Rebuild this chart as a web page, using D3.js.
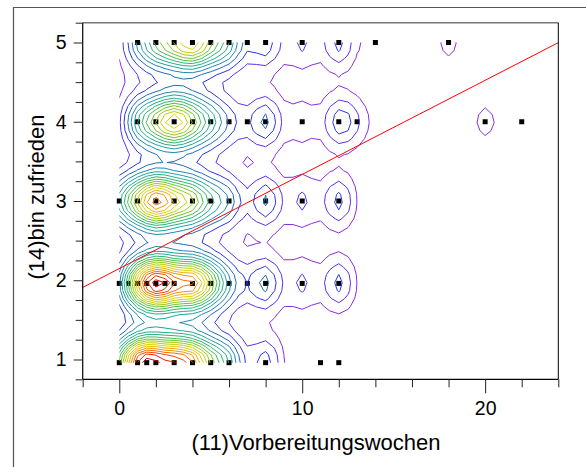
<!DOCTYPE html>
<html>
<head>
<meta charset="utf-8">
<script src="https://cdn.jsdelivr.net/npm/d3@7"></script>
<style>
  html, body { margin: 0; padding: 0; background: #fff; }
  svg { display: block; }
  text { font-family: Arial, "Liberation Sans", Helvetica, sans-serif; fill: #000; }
</style>
</head>
<body>
<svg id="chart" width="586" height="467"></svg>
<script>
// Preparation weeks (x) and number of answers for each satisfaction rating
const weeks5 = [1, 2, 3, 4, 5, 6, 7, 8, 10, 12, 14, 18];
const counts5 = [5, 9, 11, 15, 9, 7, 1, 5, 3, 5, 1, 2];
const weeks4 = [1, 2, 3, 4, 5, 6, 7, 8, 10, 12, 13, 20, 22];
const counts4 = [7, 10, 15, 10, 6, 3, 1, 6, 2, 5, 2, 2, 1];
const weeks3 = [0, 1, 2, 3, 4, 5, 6, 8, 10, 12];
const counts3 = [6, 11, 18, 12, 11, 6, 5, 6, 3, 5];
const weeks2 = [0, 0.5, 1, 1.5, 2, 2.5, 3, 4, 5, 6, 7, 8, 10, 12];
const counts2 = [1, 3, 9, 6, 15, 5, 12, 17, 10, 4, 1, 6, 3, 5];
const weeks1 = [0, 1, 1.5, 2, 3, 4, 5, 6, 8, 11, 12];
const counts1 = [8, 17, 4, 16, 17, 16, 9, 7, 5, 1, 1];
// value at which each rating row is plotted (ratings 5 .. 1)
const rowValues = [5, 4, 3, 1.96, 0.96];

// linear fit of satisfaction on preparation weeks
const fitIntercept = 2.147;
const fitSlope = 0.1188;

// axis ticks
const xMajorTicks = [0, 10, 20];
const xMinorTicks = [-2, 2, 4, 6, 8, 12, 14, 16, 18, 22, 24];
const yMajorTicks = [1, 2, 3, 4, 5];
const yMinorTicks = [0.75, 1.25, 1.5, 1.75, 2.25, 2.5, 2.75, 3.25, 3.5, 3.75, 4.25, 4.5, 4.75, 5.25];

const xTitle = "(11)Vorbereitungswochen";
const yTitle = "(14)bin zufrieden";

const rows = [
  { weeks: weeks5, counts: counts5 },
  { weeks: weeks4, counts: counts4 },
  { weeks: weeks3, counts: counts3 },
  { weeks: weeks2, counts: counts2 },
  { weeks: weeks1, counts: counts1 }
];
const points = rows.flatMap((r, i) =>
  r.weeks.map((w, k) => ({ x: w, y: rowValues[i], n: r.counts[k] })));

const W = 586, H = 467;
const svg = d3.select("#chart");
svg.append("rect").attr("width", W).attr("height", H).attr("fill", "#fff");

const x = d3.scaleLinear().domain([-2, 24]).range([82.7, 558.3]);
const y = d3.scaleLinear().domain([0.75, 5.25]).range([379.3, 22.7]);

// page frame
svg.append("path").attr("d", `M13.5,${H} V7.5 H${W}`)
  .attr("fill", "none").attr("stroke", "#555").attr("stroke-width", 1.2);

// answers
svg.append("g").selectAll("rect").data(points).join("rect")
  .attr("x", d => x(d.x) - 2.5).attr("y", d => y(d.y) - 2.5)
  .attr("width", 5).attr("height", 5).attr("fill", "#000");

// smoothed frequency surface on a regular grid
const kernel = (dx, dy) => {
  const a = (dx / 0.6) ** 2 + (dy / 0.23) ** 2;
  const b = (dx / 1.6) ** 2 + (dy / 0.4) ** 2;
  return Math.exp(-0.5 * a) + 0.07 * Math.exp(-0.5 * b);
};
const gx0 = 0, gx1 = 22, gdx = 0.5;
const nx = Math.round((gx1 - gx0) / gdx) + 1;
const gyTop = 5, gyBottom = 0.96, ny = 41;
const gdy = (gyTop - gyBottom) / (ny - 1);
const grid = new Float64Array(nx * ny);
for (let j = 0; j < ny; j++) {
  const gy = gyTop - j * gdy;
  for (let i = 0; i < nx; i++) {
    const gx = gx0 + i * gdx;
    let s = 0;
    for (const p of points) s += p.n * kernel(gx - p.x, gy - p.y);
    grid[j * nx + i] = s;
  }
}
const step = 1.64;
const levelCount = Math.floor(d3.max(grid) / step);
const thresholds = d3.range(1, levelCount + 1).map(k => k * step);

const levelColor = d3.scaleLinear()
  .domain([0, 0.05, 0.1, 0.17, 0.27, 0.42, 0.53, 0.66, 0.79, 0.9, 1])
  .range(["#8a2be2", "#6030f0", "#2a2aee", "#1f6fb8", "#1fa0a8", "#30bc60",
          "#88c818", "#e0d400", "#f59000", "#f04000", "#e00000"]);

const contours = d3.contours().size([nx, ny]).thresholds(thresholds)(grid);
const ringLine = d3.line()
  .x(c => x(gx0 + (c[0] - 0.5) * gdx))
  .y(c => y(gyTop - (c[1] - 0.5) * gdy));

svg.append("clipPath").attr("id", "gridClip").append("rect")
  .attr("x", x(gx0)).attr("y", y(gyTop))
  .attr("width", x(gx1) - x(gx0)).attr("height", y(gyBottom) - y(gyTop));

svg.append("g").attr("clip-path", "url(#gridClip)")
  .selectAll("path").data(contours).join("path")
  .attr("d", c => c.coordinates.map(poly => poly.map(r => ringLine(r)).join("")).join(""))
  .attr("fill", "none")
  .attr("stroke", (c, i) => levelColor(levelCount > 1 ? i / (levelCount - 1) : 0))
  .attr("stroke-width", 1);

// regression line
const fitLine = d3.line().x(d => x(d)).y(d => y(fitIntercept + fitSlope * d));
svg.append("path").attr("d", fitLine(x.domain()))
  .attr("fill", "none").attr("stroke", "#ff0000").attr("stroke-width", 1);

// plot frame
svg.append("line").attr("x1", x(-2)).attr("x2", x(24)).attr("y1", y(5.25)).attr("y2", y(5.25))
  .attr("stroke", "#777").attr("stroke-width", 1.6);
svg.append("line").attr("x1", x(24)).attr("x2", x(24)).attr("y1", y(5.25)).attr("y2", y(0.75))
  .attr("stroke", "#000").attr("stroke-width", 1);
svg.append("line").attr("x1", x(-2)).attr("x2", x(-2)).attr("y1", y(5.25)).attr("y2", y(0.75))
  .attr("stroke", "#000").attr("stroke-width", 1.2);
svg.append("line").attr("x1", x(-2)).attr("x2", x(24)).attr("y1", y(0.75)).attr("y2", y(0.75))
  .attr("stroke", "#000").attr("stroke-width", 1.2);

function styleAxis(g) {
  g.select(".domain").remove();
  g.selectAll(".tick line").attr("stroke", "#222");
  g.selectAll(".tick text").attr("font-family", "Arial, 'Liberation Sans', sans-serif")
    .attr("font-size", 19.5).attr("fill", "#000");
}

const yAxisG = svg.append("g").attr("transform", `translate(${x(-2)},0)`);
yAxisG.append("g").call(d3.axisLeft(y).tickValues(yMinorTicks).tickSize(7).tickFormat("")).call(styleAxis);
yAxisG.append("g").call(d3.axisLeft(y).tickValues(yMajorTicks).tickSize(9).tickPadding(7)
  .tickFormat(d3.format("d"))).call(styleAxis);

const xAxisG = svg.append("g").attr("transform", `translate(0,${y(0.75)})`);
xAxisG.append("g").call(d3.axisBottom(x).tickValues(xMinorTicks).tickSize(8).tickFormat("")).call(styleAxis);
xAxisG.append("g").call(d3.axisBottom(x).tickValues(xMajorTicks).tickSize(14).tickPadding(8)
  .tickFormat(d3.format("d"))).call(styleAxis);

// axis titles
svg.append("text").attr("x", 316).attr("y", 450).attr("text-anchor", "middle")
  .attr("font-size", 22).text(xTitle);
svg.append("text").attr("transform", "translate(44,197) rotate(-90)").attr("text-anchor", "middle")
  .attr("font-size", 22).text(yTitle);
</script>
</body>
</html>
